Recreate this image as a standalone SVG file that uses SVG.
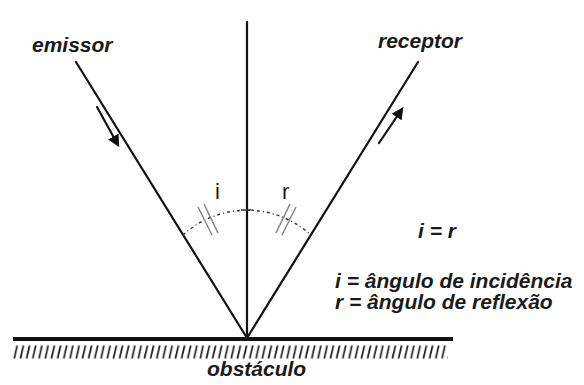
<svg xmlns="http://www.w3.org/2000/svg" width="584" height="385" viewBox="0 0 584 385">
<style>
.lbl{font-family:"Liberation Sans",Arial,sans-serif;font-style:italic;font-weight:bold;font-size:21px;fill:#1a1a1a}
.ang{font-family:"Liberation Sans",Arial,sans-serif;font-size:22px;fill:#1a1a1a}
.ray{stroke:#111;stroke-width:2.2;fill:none;stroke-linecap:round}
.hash{stroke:#888;stroke-width:1.6}
</style>
<defs>
<marker id="ah" viewBox="0 0 10 10" refX="8" refY="5" markerWidth="5.5" markerHeight="5.5" orient="auto" markerUnits="strokeWidth">
<path d="M0,0 L10,5 L0,10 z" fill="#111"/>
</marker>
<pattern id="hatch" patternUnits="userSpaceOnUse" x="13" y="345" width="6.2" height="14">
<line x1="1.2" y1="13.5" x2="4.2" y2="0.5" stroke="#222" stroke-width="1.7"/>
</pattern>
</defs>
<rect width="584" height="385" fill="#fff"/>
<g id="connectors">
<line class="ray" x1="247" y1="22" x2="247" y2="338"/>
<line class="ray" x1="76" y1="62" x2="247" y2="338"/>
<line class="ray" x1="418" y1="62" x2="247" y2="338"/>
<line class="ray" x1="97" y1="107" x2="118" y2="145" marker-end="url(#ah)"/>
<line class="ray" x1="379" y1="143" x2="402" y2="109" marker-end="url(#ah)"/>
<path d="M183,235 A95,95 0 0 1 311,235" fill="none" stroke="#333" stroke-width="1.4" stroke-dasharray="3,3,1,3"/>
<line x1="241" y1="210" x2="253" y2="210" stroke="#333" stroke-width="1.4"/>
<line class="hash" x1="198" y1="207" x2="212" y2="235"/>
<line class="hash" x1="204" y1="204" x2="218" y2="233"/>
<line class="hash" x1="296" y1="207" x2="282" y2="235"/>
<line class="hash" x1="290" y1="204" x2="276" y2="233"/>
</g>
<g id="obstaculo">
<line x1="13" y1="339" x2="453" y2="339" stroke="#111" stroke-width="4"/>
<rect x="13" y="345" width="435" height="14" fill="url(#hatch)"/>
<text class="lbl" x="207" y="376">obstáculo</text>
</g>
<g id="emissor"><text class="lbl" x="32" y="52">emissor</text></g>
<g id="receptor"><text class="lbl" x="378" y="48">receptor</text></g>
<g id="angles">
<text class="ang" x="215" y="199">i</text>
<text class="ang" x="282" y="199">r</text>
</g>
<g id="legend">
<text class="lbl" x="418" y="238">i = r</text>
<text class="lbl" x="335" y="288">i = ângulo de incidência</text>
<text class="lbl" x="335" y="309">r = ângulo de reflexão</text>
</g>
</svg>
